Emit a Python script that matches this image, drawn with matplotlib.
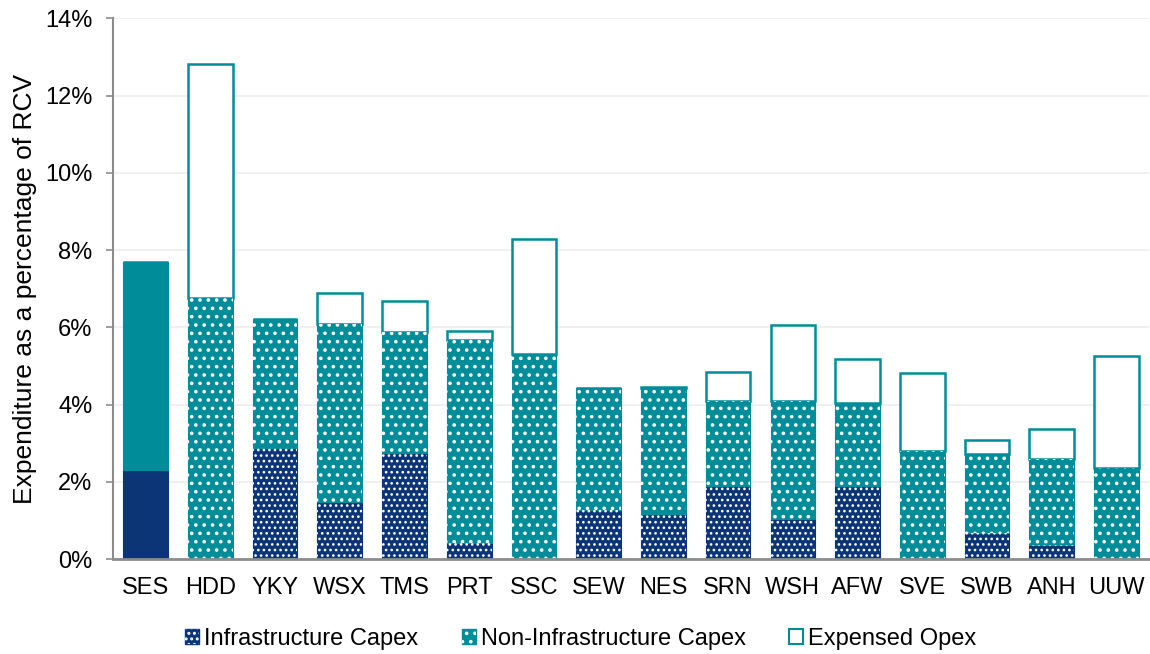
import matplotlib.pyplot as plt
from matplotlib.patches import Patch
from matplotlib.ticker import FuncFormatter
import numpy as np

plt.rcParams['font.family'] = ['Liberation Sans', 'DejaVu Sans']

# donnees (% du RCV)
companies = ["SES", "HDD", "YKY", "WSX", "TMS", "PRT", "SSC", "SEW",
             "NES", "SRN", "WSH", "AFW", "SVE", "SWB", "ANH", "UUW"]
infra = [2.32, 0, 2.89, 1.47, 2.76, 0.41, 0, 1.27,
         1.16, 1.90, 1.03, 1.90, 0, 0.68, 0.36, 0]
non_infra = [5.36, 6.75, 3.32, 4.63, 3.11, 5.26, 5.32, 3.17,
             3.26, 2.20, 3.06, 2.13, 2.79, 2.04, 2.23, 2.36]
opex = [0, 6.06, 0, 0.80, 0.81, 0.24, 2.96, 0,
        0.03, 0.75, 1.98, 1.14, 2.04, 0.36, 0.79, 2.89]
series_names = ["Infrastructure Capex", "Non-Infrastructure Capex", "Expensed Opex"]

navy = "#0B3577"
teal = "#008D9A"
w = 0.69

x = np.arange(len(companies))
infra = np.array(infra)
non_infra = np.array(non_infra)
opex = np.array(opex)

fig = plt.figure(figsize=(11.5, 6.54), dpi=100)
ax = fig.add_axes([0.0985, 0.145, 0.9005, 0.827])

ax.grid(axis="y", color="#EFEFEF", linewidth=1.3, zorder=0)

# SES en aplat, les autres avec trame pointillee
hat = x != 0

ax.bar(x, infra, w, color=navy, edgecolor=navy, linewidth=0.8, zorder=2)
ax.bar(x, non_infra, w, bottom=infra, color=teal, edgecolor=teal, linewidth=0.8, zorder=2)
plt.rcParams['hatch.linewidth'] = 1.1
ax.bar(x[hat], infra[hat], w, facecolor="none", edgecolor="white",
       hatch="...", linewidth=0, zorder=3)
h_infra = (Patch(facecolor=navy, edgecolor=navy),
           Patch(facecolor="none", edgecolor="white", hatch="...", linewidth=0))
plt.rcParams['hatch.linewidth'] = 1.4
ax.bar(x[hat], non_infra[hat], w, bottom=infra[hat], facecolor="none",
       edgecolor="white", hatch="..", linewidth=0, zorder=3)
h_non = (Patch(facecolor=teal, edgecolor=teal),
         Patch(facecolor="none", edgecolor="white", hatch="..", linewidth=0))
ax.bar(x, opex, w, bottom=infra + non_infra, color="white", edgecolor=teal,
       linewidth=1.8, zorder=2)
h_opex = Patch(facecolor="white", edgecolor=teal, linewidth=1.5)

ax.set_xlim(-0.5, len(companies) - 0.5)
ax.set_ylim(0, 14)
ax.set_yticks(np.arange(0, 15, 2))
ax.yaxis.set_major_formatter(FuncFormatter(lambda v, p: f"{v:.0f}%"))
ax.set_xticks(x)
ax.set_xticklabels(companies)
ax.tick_params(axis="x", length=0, labelsize=17, pad=13)
ax.tick_params(axis="y", length=5, width=1.2, color="#8C8C8C", labelsize=17, pad=10)
ax.set_ylabel("Expenditure as a percentage of RCV", fontsize=19, labelpad=6)

for s in ["top", "right"]:
    ax.spines[s].set_visible(False)
ax.spines["left"].set_color("#8C8C8C")
ax.spines["left"].set_linewidth(1.5)
ax.spines["bottom"].set_color("#8C8C8C")
ax.spines["bottom"].set_linewidth(2)
ax.spines["bottom"].set_zorder(4)

fig.legend([h_infra, h_non, h_opex], series_names, loc="center",
           bbox_to_anchor=(0.505, 0.023), ncol=3, frameon=False, fontsize=17,
           handlelength=0.6, handleheight=0.6, handletextpad=0.2,
           columnspacing=1.85)

fig.savefig("out.png", dpi=100)
